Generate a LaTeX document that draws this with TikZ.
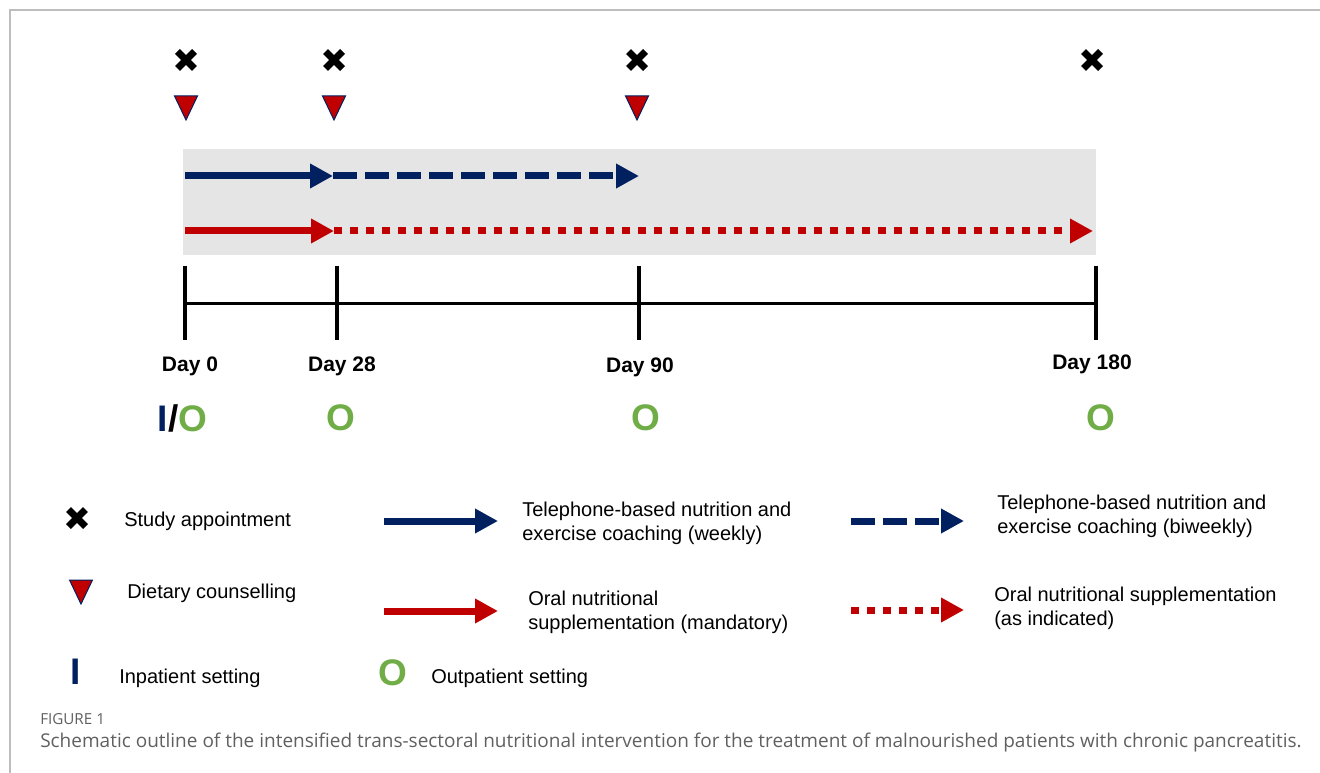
\documentclass[tikz,border=0pt]{standalone}
\usepackage{fontspec}
\setmainfont{Liberation Sans}
\newfontfamily\capfont{Open Sans}
\usetikzlibrary{arrows.meta}
\definecolor{navy}{HTML}{002060}
\definecolor{dred}{HTML}{C00000}
\definecolor{lgreen}{HTML}{70AD47}
\definecolor{band}{HTML}{E5E5E5}
\definecolor{framegray}{HTML}{BDBDBD}
\definecolor{capgray}{HTML}{606060}
\begin{document}
\begin{tikzpicture}[x=0.75pt,y=-0.75pt,
  bar/.style={line width=5.25pt},
  head/.style={-{Triangle[length=17.25pt,width=17.5pt]}},
  dashpat/.style={dash pattern=on 18pt off 6pt},
  dotpat/.style={dash pattern=on 6pt off 6pt},
  tick/.style={line width=3pt, black},
  daylbl/.style={font=\bfseries\fontsize{15.75}{18}\selectfont, inner sep=0pt},
  bigo/.style={font=\bfseries\fontsize{27.75}{30}\selectfont, text=lgreen, inner sep=0pt},
  legtext/.style={font=\fontsize{15}{18}\selectfont, anchor=west, align=left, inner sep=0pt},
  xmark/.pic={\draw[line width=5.25pt, black] (-8.5,-8.5) -- (8.5,8.5) (-8.5,8.5) -- (8.5,-8.5);},
  tri/.pic={\filldraw[fill=dred, draw=navy, line width=0.75pt, line join=miter] (-11.5,-12) -- (11.5,-12) -- (0,12) -- cycle;}
]
\useasboundingbox (0,0) rectangle (1320,773);
% frame
\draw[framegray, line width=1.5pt] (9.5,773) -- (9.5,10.5) -- (1320,10.5);

% top markers
\pic at (186,60) {xmark};
\pic at (334,60) {xmark};
\pic at (637,60) {xmark};
\pic at (1092,60) {xmark};
\pic at (186,108) {tri};
\pic at (334,108) {tri};
\pic at (637,108) {tri};

% band
\fill[band] (183,149) rectangle (1096,255.5);

% arrows in band
\coordinate (b0) at (185,176);
\coordinate (b1) at (333,176);
\coordinate (b2) at (639,176);
\coordinate (r0) at (185,231);
\coordinate (r1) at (334,231);
\coordinate (r2) at (1093,231);
\draw[bar, head, navy] (b0) -- (b1);
\draw[bar, head, dashpat, navy] (b1) -- (b2);
\draw[bar, head, dred] (r0) -- (r1);
\draw[bar, head, dotpat, dred] (r1) -- (r2);

% timeline
\coordinate (t0) at (185,303.5);
\coordinate (t1) at (337,303.5);
\coordinate (t2) at (639,303.5);
\coordinate (t3) at (1096,303.5);
\draw[line width=2.6pt] (t0) -- (t3);
\foreach \c in {t0,t1,t2,t3} \draw[tick] ([yshift=28pt]\c) -- ([yshift=-27.5pt]\c);

% day labels
\node[daylbl] (d0) at (190,366) {Day 0};
\node[daylbl] (d28) at (342,366) {Day 28};
\node[daylbl] (d90) at (640,367) {Day 90};
\node[daylbl] (d180) at (1092,364) {Day 180};

% settings
\node[bigo, anchor=west] (io) at (157.5,418) {{\color{navy}I}{\color{black}/}O};
\node[bigo] (o28) at (341,418) {O};
\node[bigo] (o90) at (646,418) {O};
\node[bigo] (o180) at (1101,418) {O};

% legend left column
\pic at (77,518) {xmark};
\node[legtext] (l1) at (124,521) {Study appointment};
\pic at (81,592) {tri};
\node[legtext] (l2) at (127,593) {Dietary counselling};
\node[font=\bfseries\fontsize{27.75}{30}\selectfont, text=navy, inner sep=0pt] (li) at (76,671.5) {I};
\node[legtext] (l3) at (119,678) {Inpatient setting};
\node[bigo] (lo) at (393,673) {O};
\node[legtext] (l4) at (431,678) {Outpatient setting};

% legend arrows
\coordinate (la1s) at (384,521);
\coordinate (la1e) at (498,521);
\coordinate (la2s) at (384,611);
\coordinate (la2e) at (498,611);
\coordinate (la3s) at (851,521);
\coordinate (la3e) at (964,521);
\coordinate (la4s) at (851,610);
\coordinate (la4e) at (964,610);
\draw[bar, head, navy] (la1s) -- (la1e);
\draw[bar, head, dred] (la2s) -- (la2e);
\draw[bar, head, dashpat, navy] (la3s) -- (la3e);
\draw[bar, head, dotpat, dred] (la4s) -- (la4e);
\node[legtext] (t1txt) at (522,523) {Telephone-based nutrition and\\exercise coaching (weekly)};
\node[legtext] (t2txt) at (528,612) {Oral nutritional\\supplementation (mandatory)};
\node[legtext] (t3txt) at (997,516) {Telephone-based nutrition and\\exercise coaching (biweekly)};
\node[legtext] (t4txt) at (994,608) {Oral nutritional supplementation\\(as indicated)};

% caption
\node[anchor=west, inner sep=0pt, text=capgray, font=\capfont\fontsize{11.4}{13}\selectfont] (fig) at (40,719) {FIGURE 1};
\node[anchor=west, inner sep=0pt, text=capgray, font=\capfont\fontsize{14.25}{16}\selectfont] (cap) at (40,743) {Schematic outline of the intensified trans-sectoral nutritional intervention for the treatment of malnourished patients with chronic pancreatitis.};
\end{tikzpicture}
\end{document}
